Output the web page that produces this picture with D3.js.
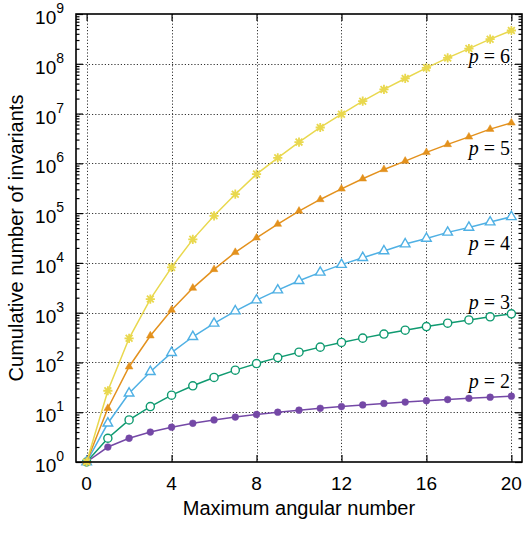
<!DOCTYPE html>
<html>
<head>
<meta charset="utf-8">
<script src="https://cdn.jsdelivr.net/npm/d3@7"></script>
<style>
  body { margin: 0; background: #fff; }
  svg text { font-family: "Liberation Sans", Arial, Helvetica, sans-serif; fill: #000; }
</style>
</head>
<body>
<svg id="chart" width="527" height="534"></svg>
<script>
// maximum angular number l_max
const lmax = [0, 1, 2, 3, 4, 5, 6, 7, 8, 9, 10, 11, 12, 13, 14, 15, 16, 17, 18, 19, 20];

// cumulative number of invariants, one array per body order p
const p2 = [1, 2, 3, 4, 5, 6, 7, 8, 9, 10, 11, 12, 13, 14, 15, 16, 17, 18, 19, 20, 21];
const p3 = [1, 3, 7, 13, 22, 34, 50, 70, 95, 125, 161, 203, 252, 308, 372, 444, 525, 615, 715, 825, 946];
const p4 = [1, 6, 24, 65, 157, 328, 610, 1077, 1790, 2840, 4370, 6460, 9230, 12700, 17300,
            23900, 31000, 41000, 51500, 66000, 84300];
const p5 = [1, 12, 82, 344, 1128, 3120, 7400, 16300, 31900, 60100, 110000, 188000, 307000,
            489000, 754000, 1110000, 1660000, 2400000, 3400000, 4860000, 6500000];
const p6 = [1, 27, 305, 1876, 8120, 29700, 88300, 240000, 607000, 1290000, 2670000, 5250000,
            9720000, 17700000, 30500000, 50700000, 82800000, 131000000, 202000000, 312000000, 466000000];

const orders = [2, 3, 4, 5, 6];
const seriesValues = [p2, p3, p4, p5, p6];

const xTicks = [0, 4, 8, 12, 16, 20];
const yExponents = [0, 1, 2, 3, 4, 5, 6, 7, 8, 9];

const xTitle = "Maximum angular number";
const yTitle = "Cumulative number of invariants";

// look of each series (colour + marker kind)
const colors = ["#7448a6", "#0f9a70", "#4fb0e4", "#e3911d", "#e9d84e"];
const markers = ["dot", "ring", "openTri", "tri", "star"];
// where the "p = n" labels sit, as log10 of the value at the right edge
const labelLevel = [1.49, 3.08, 4.26, 6.16, 8.02];

const svg = d3.select("#chart");
const plot = { left: 76, right: 522, top: 14, bottom: 462 };

const x = d3.scaleLinear().domain([-0.5, 20.5]).range([plot.left, plot.right]);
const y = d3.scaleLog().domain([1, 1e9]).range([plot.bottom, plot.top]);

// grid
let grid = svg.append("g")
  .attr("stroke", "#333")
  .attr("stroke-width", 1)
  .attr("stroke-dasharray", "1.2,2");
grid.selectAll(".gx").data(xTicks).enter().append("line")
  .attr("x1", d => Math.round(x(d)) + 0.5).attr("x2", d => Math.round(x(d)) + 0.5)
  .attr("y1", plot.top).attr("y2", plot.bottom);
grid.selectAll(".gy").data(yExponents.slice(1, -1)).enter().append("line")
  .attr("y1", d => Math.round(y(10 ** d)) + 0.5).attr("y2", d => Math.round(y(10 ** d)) + 0.5)
  .attr("x1", plot.left).attr("x2", plot.right);

// minor log ticks
let minor = [];
for (let e = 0; e < 9; e++) {
  for (let k = 2; k < 10; k++) minor.push(k * 10 ** e);
}
let majorY = yExponents.map(e => 10 ** e);

function tickAxis(axis, tx, ty) {
  let g = svg.append("g").attr("transform", `translate(${tx},${ty})`).call(axis);
  g.select(".domain").remove();
  g.selectAll("text").remove();
  g.selectAll("line").attr("stroke", "#000").attr("stroke-width", 1.2);
}
tickAxis(d3.axisLeft(y).tickValues(minor).tickSize(-3.5), plot.left, 0);
tickAxis(d3.axisLeft(y).tickValues(majorY).tickSize(-7), plot.left, 0);
tickAxis(d3.axisRight(y).tickValues(minor).tickSize(-3.5), plot.right, 0);
tickAxis(d3.axisRight(y).tickValues(majorY).tickSize(-7), plot.right, 0);
tickAxis(d3.axisBottom(x).tickValues(xTicks).tickSize(-7), 0, plot.bottom);
tickAxis(d3.axisTop(x).tickValues(xTicks).tickSize(-7), 0, plot.top);

// series
const line = d3.line()
  .x((d, i) => x(lmax[i]))
  .y(d => y(d));

function markerPath(kind) {
  if (kind === "dot") return d3.symbol(d3.symbolCircle, 36)();
  if (kind === "ring") return d3.symbol(d3.symbolCircle, 52)();
  if (kind === "openTri") return d3.symbol(d3.symbolTriangle, 40)();
  if (kind === "tri") return d3.symbol(d3.symbolTriangle, 26)();
  // gnuplot-like star: plus and cross on top of each other
  let p = d3.path();
  p.moveTo(-4.6, 0); p.lineTo(4.6, 0);
  p.moveTo(0, -4.6); p.lineTo(0, 4.6);
  p.moveTo(-3.4, -3.4); p.lineTo(3.4, 3.4);
  p.moveTo(-3.4, 3.4); p.lineTo(3.4, -3.4);
  return p.toString();
}

for (let s = 0; s < seriesValues.length; s++) {
  let vals = seriesValues[s];
  let c = colors[s];
  let kind = markers[s];
  let g = svg.append("g");
  g.append("path")
    .attr("d", line(vals))
    .attr("fill", "none")
    .attr("stroke", c)
    .attr("stroke-width", 1.5);
  let filled = kind === "dot" || kind === "tri";
  g.selectAll("path.m").data(vals).enter().append("path")
    .attr("class", "m")
    .attr("transform", (d, i) => `translate(${x(lmax[i])},${y(d)})`)
    .attr("d", markerPath(kind))
    .attr("fill", filled ? c : (kind === "star" ? "none" : "#fff"))
    .attr("stroke", c)
    .attr("stroke-width", kind === "star" ? 1.8 : (filled ? 0.5 : 1.4));
}

// frame
svg.append("rect")
  .attr("x", plot.left).attr("y", plot.top)
  .attr("width", plot.right - plot.left).attr("height", plot.bottom - plot.top)
  .attr("fill", "none").attr("stroke", "#000").attr("stroke-width", 1.6);

// y tick labels 10^n
let yl = svg.selectAll(".ylab").data(yExponents).enter().append("text")
  .attr("x", 64)
  .attr("y", d => y(10 ** d) + 10)
  .attr("text-anchor", "end")
  .style("font-size", "19px");
yl.append("tspan").text("10");
yl.append("tspan").attr("dy", -11).style("font-size", "14px").text(d => d);

// x tick labels
svg.selectAll(".xlab").data(xTicks).enter().append("text")
  .attr("x", d => x(d))
  .attr("y", 490)
  .attr("text-anchor", "middle")
  .style("font-size", "19px")
  .text(d => d);

// titles
svg.append("text")
  .attr("x", (plot.left + plot.right) / 2)
  .attr("y", 515)
  .attr("text-anchor", "middle")
  .style("font-size", "20px")
  .text(xTitle);
svg.append("text")
  .attr("transform", `translate(23,${(plot.top + plot.bottom) / 2}) rotate(-90)`)
  .attr("text-anchor", "middle")
  .style("font-size", "20px")
  .text(yTitle);

// p = n labels
let pl = svg.selectAll(".plab").data(orders).enter().append("text")
  .attr("x", 510)
  .attr("y", (d, i) => y(10 ** labelLevel[i]))
  .attr("text-anchor", "end")
  .style("font-family", "'Liberation Serif', 'Times New Roman', serif")
  .style("font-size", "20px");
pl.append("tspan").style("font-style", "italic").text("p");
pl.append("tspan").text(d => " = " + d);
</script>
</body>
</html>
